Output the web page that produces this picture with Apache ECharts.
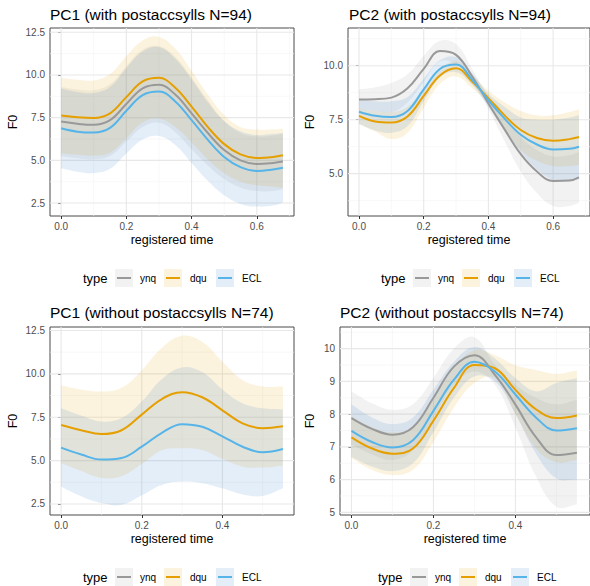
<!DOCTYPE html>
<html><head><meta charset="utf-8">
<script src="https://cdn.jsdelivr.net/npm/echarts@6/dist/echarts.min.js"></script>
<style>html,body{margin:0;padding:0;background:#fff}#c{width:590px;height:586px}</style>
</head><body><div id="c"></div><script>
// ---------- DATA ----------
const typeNames = ['ynq', 'dqu', 'ECL'];
const titles = ['PC1 (with postaccsylls N=94)', 'PC2 (with postaccsylls N=94)',
                'PC1 (without postaccsylls N=74)', 'PC2 (without postaccsylls N=74)'];

// Panel 1: PC1 with postaccsylls
const p1_x      = [0, 0.05, 0.1, 0.15, 0.2, 0.25, 0.3, 0.35, 0.4, 0.45, 0.5, 0.55, 0.6, 0.65, 0.68];
const p1_ynq    = [7.27, 7.14, 7.08, 7.35, 8.3, 9.22, 9.43, 8.85, 7.75, 6.6, 5.6, 5.0, 4.79, 4.85, 4.93];
const p1_ynq_lo = [5.25, 5.12, 5.06, 5.25, 6.1, 6.95, 7.2, 6.65, 5.65, 4.7, 3.9, 3.4, 3.2, 3.2, 3.3];
const p1_ynq_hi = [9.3, 9.15, 9.1, 9.45, 10.5, 11.47, 11.68, 11.05, 9.85, 8.5, 7.3, 6.6, 6.4, 6.45, 6.55];
const p1_dqu    = [7.62, 7.52, 7.48, 7.75, 8.7, 9.62, 9.83, 9.25, 8.15, 6.95, 5.95, 5.35, 5.14, 5.2, 5.3];
const p1_dqu_lo = [5.42, 5.32, 5.28, 5.45, 6.3, 7.22, 7.43, 6.95, 6.05, 5.05, 4.25, 3.75, 3.54, 3.45, 3.4];
const p1_dqu_hi = [9.82, 9.72, 9.68, 10.05, 11.1, 12.02, 12.23, 11.55, 10.25, 8.85, 7.65, 6.95, 6.8, 6.8, 6.85];
const p1_ECL    = [6.88, 6.68, 6.63, 6.9, 7.9, 8.82, 9.03, 8.45, 7.35, 6.2, 5.2, 4.6, 4.38, 4.47, 4.57];
const p1_ECL_lo = [4.53, 4.33, 4.25, 4.5, 5.4, 6.22, 6.42, 5.9, 4.85, 3.8, 2.95, 2.45, 2.29, 2.35, 2.52];
const p1_ECL_hi = [9.2, 9.0, 8.95, 9.3, 10.4, 11.37, 11.63, 10.95, 9.75, 8.4, 7.3, 6.7, 6.48, 6.55, 6.6];

// Panel 2: PC2 with postaccsylls
const p2_x      = [0, 0.05, 0.1, 0.15, 0.2, 0.25, 0.3, 0.35, 0.4, 0.45, 0.5, 0.55, 0.6, 0.65, 0.68];
const p2_ynq    = [8.44, 8.45, 8.52, 8.95, 9.85, 10.68, 10.5, 9.5, 8.25, 7.05, 5.9, 5.1, 4.66, 4.68, 4.83];
const p2_ynq_lo = [7.98, 7.9, 7.85, 8.3, 9.25, 10.2, 10.05, 9.25, 8.0, 6.5, 5.1, 4.1, 3.5, 3.5, 3.65];
const p2_ynq_hi = [8.9, 9.0, 9.2, 9.6, 10.45, 11.15, 11.0, 9.85, 8.55, 7.6, 6.7, 6.1, 5.8, 5.85, 6.0];
const p2_dqu    = [7.68, 7.42, 7.37, 7.65, 8.6, 9.55, 9.88, 9.25, 8.5, 7.7, 7.02, 6.65, 6.53, 6.6, 6.7];
const p2_dqu_lo = [7.3, 6.95, 6.6, 6.9, 8.05, 9.15, 9.5, 8.95, 8.2, 7.1, 6.1, 5.6, 5.35, 5.35, 5.4];
const p2_dqu_hi = [8.0, 7.9, 7.85, 8.1, 8.95, 9.85, 10.2, 9.55, 8.85, 8.3, 7.9, 7.7, 7.7, 7.85, 7.98];
const p2_ECL    = [7.87, 7.68, 7.62, 7.9, 8.9, 9.85, 10.05, 9.35, 8.4, 7.55, 6.8, 6.35, 6.12, 6.15, 6.25];
const p2_ECL_lo = [7.3, 7.0, 6.9, 7.2, 8.35, 9.45, 9.7, 9.1, 8.1, 7.0, 6.0, 5.2, 4.7, 4.65, 4.75];
const p2_ECL_hi = [8.45, 8.35, 8.35, 8.55, 9.4, 10.25, 10.4, 9.65, 8.7, 8.1, 7.6, 7.5, 7.5, 7.6, 7.7];

// Panel 3: PC1 without postaccsylls (no ynq curve drawn)
const p3_x      = [0, 0.05, 0.1, 0.15, 0.2, 0.25, 0.3, 0.35, 0.4, 0.45, 0.5, 0.55];
const p3_dqu    = [7.05, 6.75, 6.53, 6.75, 7.65, 8.55, 8.94, 8.65, 7.9, 7.15, 6.87, 6.98];
const p3_dqu_lo = [4.85, 4.4, 4.0, 4.1, 4.8, 5.6, 5.71, 5.6, 5.1, 4.65, 4.6, 4.71];
const p3_dqu_hi = [9.33, 9.1, 8.98, 9.2, 10.2, 11.5, 12.19, 11.85, 10.7, 9.65, 9.27, 9.27];
const p3_ECL    = [5.75, 5.35, 5.06, 5.15, 5.8, 6.6, 7.1, 6.95, 6.4, 5.8, 5.48, 5.67];
const p3_ECL_lo = [3.5, 2.95, 2.55, 2.45, 3.0, 3.6, 3.79, 3.7, 3.4, 3.05, 2.96, 3.4];
const p3_ECL_hi = [8.02, 7.6, 7.25, 7.45, 8.4, 9.7, 10.37, 10.1, 9.1, 8.3, 8.02, 7.96];

// Panel 4: PC2 without postaccsylls
const p4_x      = [0, 0.05, 0.1, 0.15, 0.2, 0.25, 0.3, 0.35, 0.4, 0.45, 0.5, 0.55];
const p4_ynq    = [7.88, 7.55, 7.37, 7.6, 8.5, 9.45, 9.8, 9.2, 8.29, 7.3, 6.75, 6.82];
const p4_ynq_lo = [7.07, 6.77, 6.6, 6.9, 7.9, 8.9, 9.3, 8.9, 7.6, 6.1, 5.17, 5.24];
const p4_ynq_hi = [8.69, 8.33, 8.13, 8.3, 9.1, 10.0, 10.35, 9.5, 8.9, 8.5, 8.3, 8.44];
const p4_dqu    = [7.29, 6.95, 6.79, 6.95, 7.8, 8.8, 9.5, 9.4, 8.74, 8.15, 7.88, 7.96];
const p4_dqu_lo = [6.65, 6.3, 6.14, 6.3, 7.15, 8.2, 8.95, 9.1, 8.0, 6.95, 6.53, 6.6];
const p4_dqu_hi = [7.93, 7.6, 7.44, 7.6, 8.45, 9.4, 9.95, 9.8, 9.49, 9.35, 9.23, 9.33];
const p4_ECL    = [7.49, 7.15, 6.98, 7.2, 8.1, 9.05, 9.6, 9.3, 8.6, 7.9, 7.5, 7.57];
const p4_ECL_lo = [6.69, 6.4, 6.26, 6.5, 7.45, 8.5, 9.15, 9.0, 8.0, 6.8, 6.04, 6.0];
const p4_ECL_hi = [8.29, 7.9, 7.7, 7.9, 8.75, 9.6, 10.05, 9.7, 9.1, 8.7, 8.95, 9.1];

// Tick labels
const p1_xTicks = [0, 0.2, 0.4, 0.6];
const p1_yTicks = [2.5, 5, 7.5, 10, 12.5];
const p2_xTicks = [0, 0.2, 0.4, 0.6];
const p2_yTicks = [5, 7.5, 10];
const p3_xTicks = [0, 0.2, 0.4];
const p3_yTicks = [2.5, 5, 7.5, 10, 12.5];
const p4_xTicks = [0, 0.2, 0.4];
const p4_yTicks = [5, 6, 7, 8, 9, 10];
// minor grid breaks
const p1_xMinor = [0.1, 0.3, 0.5, 0.7];
const p1_yMinor = [3.75, 6.25, 8.75, 11.25];
const p2_xMinor = [0.1, 0.3, 0.5, 0.7];
const p2_yMinor = [3.75, 6.25, 8.75, 11.25];
const p3_xMinor = [0.1, 0.3, 0.5];
const p3_yMinor = [3.75, 6.25, 8.75, 11.25];
const p4_xMinor = [0.1, 0.3, 0.5];
const p4_yMinor = [5.5, 6.5, 7.5, 8.5, 9.5, 10.5];

// ---------- STYLE / LAYOUT ----------
const lineColors = { ynq: '#999999', dqu: '#E69F00', ECL: '#56B4E9' };
const bandColors = { ynq: '#999999', dqu: '#E69F00', ECL: '#2C7FC9' };
const bandAlpha = 0.13;
const SMOOTH = 0.4;
const FONT = 'Liberation Sans, Arial, sans-serif';

const panels = [
  { x: p1_x, xTicks: p1_xTicks, yTicks: p1_yTicks, xMinor: p1_xMinor, yMinor: p1_yMinor,
    series: { ynq: [p1_ynq, p1_ynq_lo, p1_ynq_hi], dqu: [p1_dqu, p1_dqu_lo, p1_dqu_hi], ECL: [p1_ECL, p1_ECL_lo, p1_ECL_hi] },
    grid: { left: 50, top: 28, width: 244, height: 188 }, xr: [-0.034, 0.714], yr: [1.74, 12.75],
    yGap: 31, yDec: 1, title: { left: 50, top: 6 }, legend: { x: 83, y: 278 } },
  { x: p2_x, xTicks: p2_xTicks, yTicks: p2_yTicks, xMinor: p2_xMinor, yMinor: p2_yMinor,
    series: { ynq: [p2_ynq, p2_ynq_lo, p2_ynq_hi], dqu: [p2_dqu, p2_dqu_lo, p2_dqu_hi], ECL: [p2_ECL, p2_ECL_lo, p2_ECL_hi] },
    grid: { left: 348, top: 28, width: 243, height: 188 }, xr: [-0.034, 0.714], yr: [3.04, 11.745],
    yGap: 32, yDec: 1, title: { left: 349, top: 6 }, legend: { x: 381, y: 278 } },
  { x: p3_x, xTicks: p3_xTicks, yTicks: p3_yTicks, xMinor: p3_xMinor, yMinor: p3_yMinor,
    series: { dqu: [p3_dqu, p3_dqu_lo, p3_dqu_hi], ECL: [p3_ECL, p3_ECL_lo, p3_ECL_hi] },
    grid: { left: 50, top: 327, width: 244, height: 188 }, xr: [-0.0275, 0.5775], yr: [1.865, 12.70],
    yGap: 31, yDec: 1, title: { left: 50, top: 304 }, legend: { x: 83, y: 577 } },
  { x: p4_x, xTicks: p4_xTicks, yTicks: p4_yTicks, xMinor: p4_xMinor, yMinor: p4_yMinor,
    series: { ynq: [p4_ynq, p4_ynq_lo, p4_ynq_hi], dqu: [p4_dqu, p4_dqu_lo, p4_dqu_hi], ECL: [p4_ECL, p4_ECL_lo, p4_ECL_hi] },
    grid: { left: 340, top: 327, width: 253, height: 188 }, xr: [-0.028, 0.582], yr: [4.92, 10.66],
    yGap: 24, yDec: 0, title: { left: 340, top: 304 }, legend: { x: 378, y: 577 } }
];

function rgba(hex, a) {
  const n = parseInt(hex.slice(1), 16);
  return 'rgba(' + (n >> 16 & 255) + ',' + (n >> 8 & 255) + ',' + (n & 255) + ',' + a + ')';
}

// smooth bezier path through pixel points (same style of smoothing as ECharts line smooth)
function smoothPath(pts, start) {
  let d = start ? 'M' + pts[0][0] + ',' + pts[0][1] : 'L' + pts[0][0] + ',' + pts[0][1];
  const n = pts.length;
  const ctrl = pts.map((p, i) => {
    const prev = pts[Math.max(0, i - 1)], next = pts[Math.min(n - 1, i + 1)];
    const dPrev = Math.hypot(p[0] - prev[0], p[1] - prev[1]);
    const dNext = Math.hypot(next[0] - p[0], next[1] - p[1]);
    const tot = dPrev + dNext || 1;
    const vx = (next[0] - prev[0]) * SMOOTH, vy = (next[1] - prev[1]) * SMOOTH;
    return {
      before: [p[0] - vx * dPrev / tot, p[1] - vy * dPrev / tot],
      after:  [p[0] + vx * dNext / tot, p[1] + vy * dNext / tot]
    };
  });
  for (let i = 0; i < n - 1; i++) {
    const a = ctrl[i].after, b = ctrl[i + 1].before, q = pts[i + 1];
    d += 'C' + a[0] + ',' + a[1] + ',' + b[0] + ',' + b[1] + ',' + q[0] + ',' + q[1];
  }
  return d;
}

const grids = [], xAxes = [], yAxes = [], series = [], titleOpts = [], graphics = [];

panels.forEach((p, i) => {
  grids.push(Object.assign({ show: true, borderColor: '#4a4a4a', borderWidth: 1, backgroundColor: 'transparent', containLabel: false }, p.grid));
  titleOpts.push({ text: titles[i], left: p.title.left, top: p.title.top, padding: 0,
    textStyle: { fontSize: 15.5, fontWeight: 'normal', color: '#000', fontFamily: FONT } });
  xAxes.push({ type: 'value', gridIndex: i, min: p.xr[0], max: p.xr[1],
    axisLine: { show: false },
    axisTick: { show: true, length: 3, customValues: p.xTicks, lineStyle: { color: '#333' } },
    axisLabel: { customValues: p.xTicks, formatter: v => v.toFixed(1), color: '#4d4d4d', fontSize: 10, margin: 5, fontFamily: FONT },
    splitLine: { show: false },
    name: 'registered time', nameLocation: 'middle', nameGap: 17,
    nameTextStyle: { fontSize: 12.5, color: '#000', fontFamily: FONT } });
  yAxes.push({ type: 'value', gridIndex: i, min: p.yr[0], max: p.yr[1],
    axisLine: { show: false },
    axisTick: { show: true, length: 3, customValues: p.yTicks, lineStyle: { color: '#333' } },
    axisLabel: { customValues: p.yTicks, formatter: v => v.toFixed(p.yDec), color: '#4d4d4d', fontSize: 10, margin: 5, fontFamily: FONT },
    splitLine: { show: false },
    name: 'F0', nameLocation: 'middle', nameGap: p.yGap, nameRotate: 90,
    nameTextStyle: { fontSize: 12.5, color: '#000', fontFamily: FONT } });

  // grid lines (major + minor), placed through the axis scales
  series.push({ type: 'custom', xAxisIndex: i, yAxisIndex: i, z: 1, silent: true,
    data: [[p.xTicks[0], p.yTicks[0]]],
    renderItem: (params, api) => {
      const ch = [];
      const add = (a, b, st) => ch.push({ type: 'line', shape: { x1: a[0], y1: a[1], x2: b[0], y2: b[1] }, style: st });
      const minorSt = { stroke: '#f4f4f4', lineWidth: 0.6 };
      const majorSt = { stroke: '#e8e8e8', lineWidth: 1.1 };
      p.xMinor.forEach(v => add(api.coord([v, p.yr[0]]), api.coord([v, p.yr[1]]), minorSt));
      p.yMinor.forEach(v => add(api.coord([p.xr[0], v]), api.coord([p.xr[1], v]), minorSt));
      p.xTicks.forEach(v => add(api.coord([v, p.yr[0]]), api.coord([v, p.yr[1]]), majorSt));
      p.yTicks.forEach(v => add(api.coord([p.xr[0], v]), api.coord([p.xr[1], v]), majorSt));
      return { type: 'group', children: ch };
    } });

  // ribbons
  typeNames.forEach(t => {
    const s = p.series[t]; if (!s) return;
    const lo = s[1], hi = s[2];
    series.push({ type: 'custom', name: t + ' band', xAxisIndex: i, yAxisIndex: i, z: 2, silent: true,
      data: [[p.x[0], lo[0], hi[0]]],
      renderItem: (params, api) => {
        const up = p.x.map((x, k) => api.coord([x, hi[k]]));
        const dn = p.x.map((x, k) => api.coord([x, lo[k]])).reverse();
        const d = smoothPath(up, true) + smoothPath(dn, false) + 'Z';
        return { type: 'path', shape: { pathData: d }, style: { fill: rgba(bandColors[t], bandAlpha), stroke: null } };
      } });
  });
  // mean lines
  typeNames.forEach(t => {
    const s = p.series[t]; if (!s) return;
    series.push({ type: 'line', name: t, xAxisIndex: i, yAxisIndex: i, z: 3,
      data: p.x.map((x, k) => [x, s[0][k]]), smooth: SMOOTH, symbol: 'none', silent: true,
      lineStyle: { color: lineColors[t], width: 2 } });
  });

  // legend (type  [key] ynq  [key] dqu  [key] ECL)
  const L = p.legend;
  graphics.push({ type: 'text', x: L.x, y: L.y, style: { text: 'type', fill: '#000', font: '13px ' + FONT, textVerticalAlign: 'middle' } });
  const boxOff = [32, 81, 133], labOff = [57, 107, 159];
  typeNames.forEach((t, k) => {
    graphics.push({ type: 'rect', shape: { x: L.x + boxOff[k], y: L.y - 9, width: 18, height: 18 },
      style: { fill: rgba(bandColors[t], bandAlpha) } });
    graphics.push({ type: 'line', shape: { x1: L.x + boxOff[k] + 2, y1: L.y, x2: L.x + boxOff[k] + 16, y2: L.y },
      style: { stroke: lineColors[t], lineWidth: 2 } });
    graphics.push({ type: 'text', x: L.x + labOff[k], y: L.y, style: { text: t, fill: '#000', font: '10px ' + FONT, textVerticalAlign: 'middle' } });
  });
});

const chart = echarts.init(document.getElementById('c'), null, { renderer: 'svg' });
chart.setOption({
  animation: false,
  backgroundColor: '#ffffff',
  textStyle: { fontFamily: FONT },
  title: titleOpts,
  grid: grids,
  xAxis: xAxes,
  yAxis: yAxes,
  series: series,
  graphic: graphics
});
</script></body></html>
